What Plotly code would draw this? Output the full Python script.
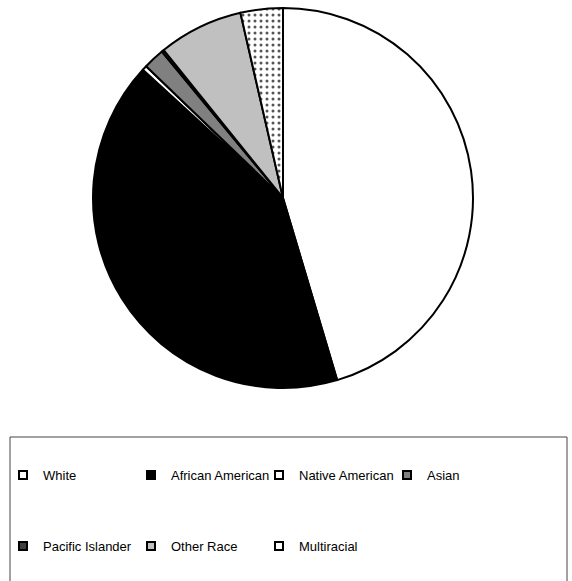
import plotly.graph_objects as go

labels = ["White", "African American", "Native American", "Asian",
          "Pacific Islander", "Other Race", "Multiracial"]
values = [45.4, 41.4, 0.4, 1.8, 0.2, 7.2, 3.6]
colors = ["#ffffff", "#000000", "#ffffff", "#808080", "#404040", "#c0c0c0", "#ffffff"]
shapes = ["", "", "", "", "", "", "."]
legend_rows = [0, 0, 0, 0, 1, 1, 1]

W, H = 572, 581

fig = go.Figure()
fig.add_trace(go.Pie(
    labels=labels,
    values=values,
    sort=False,
    direction="clockwise",
    rotation=0,
    textinfo="none",
    hoverinfo="label+percent",
    showlegend=False,
    marker=dict(
        colors=colors,
        line=dict(color="#000000", width=2),
        pattern=dict(shape=shapes, fgcolor="#555555", bgcolor="#ffffff",
                     size=6, solidity=0.2),
    ),
    domain=dict(x=[93/W, 473/W], y=[1-388/H, 1-8/H]),
))

# legend entries (one legend per row)
for lab, col, row in zip(labels, colors, legend_rows):
    fig.add_trace(go.Scatter(
        x=[None], y=[None], mode="markers", name=lab,
        marker=dict(symbol="square", size=8, color=col,
                    line=dict(color="#000000", width=2)),
        legend="legend" if row == 0 else "legend2",
        hoverinfo="skip",
    ))

leg_common = dict(
    orientation="h",
    x=3/W, xanchor="left",
    yanchor="middle",
    bgcolor="rgba(0,0,0,0)",
    borderwidth=0,
    entrywidth=83, entrywidthmode="pixels",
    itemwidth=30,
    font=dict(size=13, color="#000000"),
)

fig.update_layout(
    width=W, height=H,
    margin=dict(l=0, r=0, t=0, b=0),
    paper_bgcolor="#ffffff",
    plot_bgcolor="#ffffff",
    font=dict(family="Liberation Sans, Arial, sans-serif", size=13, color="#000000"),
    showlegend=True,
    xaxis=dict(visible=False),
    yaxis=dict(visible=False),
    legend=dict(leg_common, y=1-475/H),
    legend2=dict(leg_common, y=1-546/H),
    shapes=[dict(type="rect", xref="paper", yref="paper",
                 x0=10/W, x1=567/W, y0=-0.02, y1=1-437/H,
                 line=dict(color="#444444", width=1), fillcolor="rgba(0,0,0,0)",
                 layer="below")],
)

fig.write_html("out.html", config={"displayModeBar": False},
               post_script="document.body.style.margin='0';")
